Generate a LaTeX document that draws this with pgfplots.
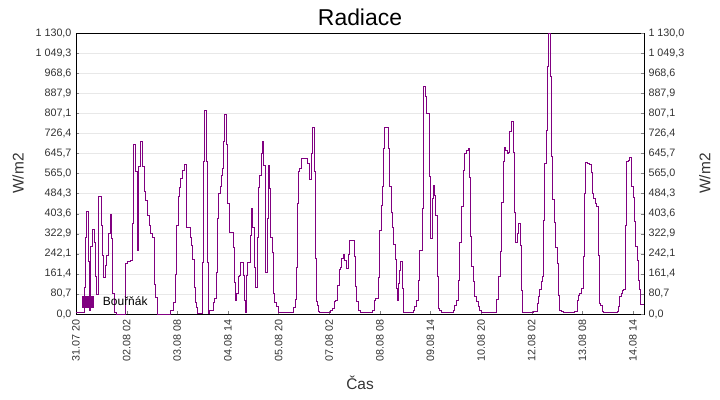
\documentclass[border=0pt]{standalone}
\usepackage{pgfplots}
\pgfplotsset{compat=1.18}
\usepackage{fontspec}
\setmainfont{Liberation Sans}
\definecolor{mypurple}{RGB}{128,0,128}
\definecolor{gridgray}{RGB}{232,232,232}
\definecolor{ticktext}{RGB}{51,51,51}
\begin{document}
\begin{tikzpicture}
\path[use as bounding box] (-76bp,-86bp) rectangle (644bp,314bp);
\pgfplotsset{
  common/.style={
    scale only axis, width=568bp, height=281bp,
    xmin=76, xmax=644.3, ymin=0, ymax=1130,
    ytick={0,80.714,161.429,242.143,322.857,403.571,484.286,565,645.714,726.429,807.143,887.857,968.571,1049.286,1130},
    yticklabels={{0,0},{80,7},{161,4},{242,1},{322,9},{403,6},{484,3},{565,0},{645,7},{726,4},{807,1},{887,9},{968,6},{1 049,3},{1 130,0}},
    tick align=inside, major tick length=3.5bp,
    ticklabel style={font=\fontsize{10.8}{13}\selectfont, text=ticktext},
    label style={font=\fontsize{15.5}{18}\selectfont, text=ticktext},
  }
}
\begin{axis}[common,
  xtick={76,126.67,177.33,228,278.67,329.33,380,430.67,481.33,532,582.67,633.33},
  xticklabels={31.07 20,02.08 02,03.08 08,04.08 14,05.08 20,07.08 02,08.08 08,09.08 14,10.08 20,12.08 02,13.08 08,14.08 14},
  xticklabel style={rotate=90, anchor=east, xshift=-2bp},
  xtick pos=bottom, ytick pos=left,
  yticklabel style={xshift=-1bp},
  ymajorgrids, grid style={gridgray, line width=0.6bp},
  title={Radiace}, title style={font=\fontsize{23}{27}\selectfont, at={(axis description cs:0.5,1.036)}, anchor=center},
  xlabel={Čas}, xlabel style={at={(axis description cs:0.5,-0.2456)}, anchor=center},
  ylabel={W/m2}, ylabel style={at={(axis description cs:-0.102,0.5)}, anchor=center},
  legend style={draw=none, fill=none, at={(0,0)}, anchor=south west, xshift=3bp, yshift=3.5bp,
    font=\fontsize{12}{14}\selectfont, nodes={inner sep=1.5bp}},
  legend image code/.code={\fill[mypurple] (0bp,-5.5bp) rectangle (10.5bp,5.5bp);},
  legend cell align=left,
]
\addplot[const plot, mypurple, line width=0.8bp] table {
x y
76 7
84.3 107
85.7 309
86.7 413
88.3 211
89.3 13
90.7 271
92.7 340
94.3 287
95.7 150
96.7 79
98.7 471
101.3 356
102.7 235
103.7 148
105.7 195
106.7 235
108.7 323
110 400
111.3 303
112.7 81
114 7
116.7 0
125.7 202
127.3 211
130.7 215
132.3 363
133.3 682
135.7 572
137.3 256
138.3 592
140 693
142.3 592
144 494
145.7 457
147.3 397
149 356
150.7 323
152.3 309
154 121
155.7 67
157.3 0
170.7 13
173.3 47
175.7 161
176.7 356
178 471
179.3 508
180.7 545
182.3 578
184 601
186.3 350
190 309
191.7 276
192.7 218
194 108
195.3 47
196.7 27
197.3 4
202.3 208
203.3 615
204.3 818
206 615
207.7 208
208.3 4
209.3 13
211 16
213.3 47
214.7 63
216.3 168
217.7 383
218.7 484
220 514
221 558
222 585
223.3 695
224.7 803
226.7 682
227.7 444
229 330
233.3 269
234.3 128
235.7 56
236.7 81
238 151
239 155
240.7 208
243.3 155
244.3 56
245.3 7
246.3 155
247.3 208
250 316
251 424
252.7 350
254 188
255.3 105
257.3 309
258.3 511
259.3 558
261 646
262 693
263.7 598
265.3 168
267.3 383
268.3 598
270 504
271 309
272.3 249
273.7 81
275 47
276.7 30
278.3 8
294 27
295.7 60
297 188
298 444
299 572
300 585
301.7 625
308 606
309.3 541
311.3 646
312.3 750
314.3 572
315.7 224
316.7 50
317.7 36
318.7 9
319.7 7
331 13
332.7 23
334.3 50
336 56
338 114
339.3 180
340.7 188
342 224
343.3 241
344.7 217
346.7 184
348.7 241
350 297
354.3 233
356 110
357 50
358.7 16
360.3 7
372.7 16
374.3 56
376 63
378.7 147
380 338
381.3 438
382.7 515
383.7 666
384.7 749
388.7 666
390 515
391.3 407
392.7 347
394 281
395.3 220
396.7 103
397.3 56
398.3 123
399.3 174
400.7 210
402.7 103
403.7 7
413.3 16
415 29
417 56
418.7 137
420 257
422.7 425
423.3 753
424 917
425.3 876
426.7 807
429.3 552
430.7 304
432.7 465
433.7 519
434.7 478
435.7 398
437.3 150
438.3 23
440 16
441.7 7
453.3 16
455 36
456.7 56
458.3 137
460 287
461.7 434
463.3 579
464.3 646
466.7 659
468.3 666
469.3 549
470.7 314
472 190
473.3 130
475 70
476.7 50
478.3 32
480 16
481.7 7
496.7 59
498.7 150
500.3 253
501.7 448
503.3 612
504.7 669
506 659
507.3 646
508.7 649
510 736
511.3 776
513.3 649
514.7 407
516 288
517.3 324
518.7 364
520.3 275
521.7 96
522.7 7
533.3 12
537.3 43
538.7 72
540 99
541.7 130
542.7 150
544 378
545 606
546.7 740
548 994
549 1128
550.7 957
551.7 632
552.7 461
554.3 367
556 268
557.3 204
558.7 76
560 16
561.7 9
563.3 7
575 12
577.3 56
578.7 74
580 83
582 103
583.3 230
585 485
586 608
587.3 606
589.3 602
591.7 570
592.7 485
594 465
595.3 445
596.7 431
598.3 237
600 43
601 34
602.7 9
604 7
617.3 12
619 29
620 70
621.3 83
622.7 94
624 97
626 355
626.7 612
628.3 619
630 630
631.3 512
633.3 468
635 371
636 271
637.3 217
638.7 137
640 97
640.7 40
644.3 40
};
\addlegendentry{\hspace*{8bp}Bouřňák}
\end{axis}
\begin{axis}[common,
  hide x axis, axis y line*=right, ytick pos=right,
  yticklabel style={xshift=1bp},
  ylabel={W/m2}, ylabel style={at={(axis description cs:1.107,0.5)}, anchor=center, rotate=0},
]
\addplot[draw=none] coordinates {(76,0)};
\end{axis}
\end{tikzpicture}
\end{document}
